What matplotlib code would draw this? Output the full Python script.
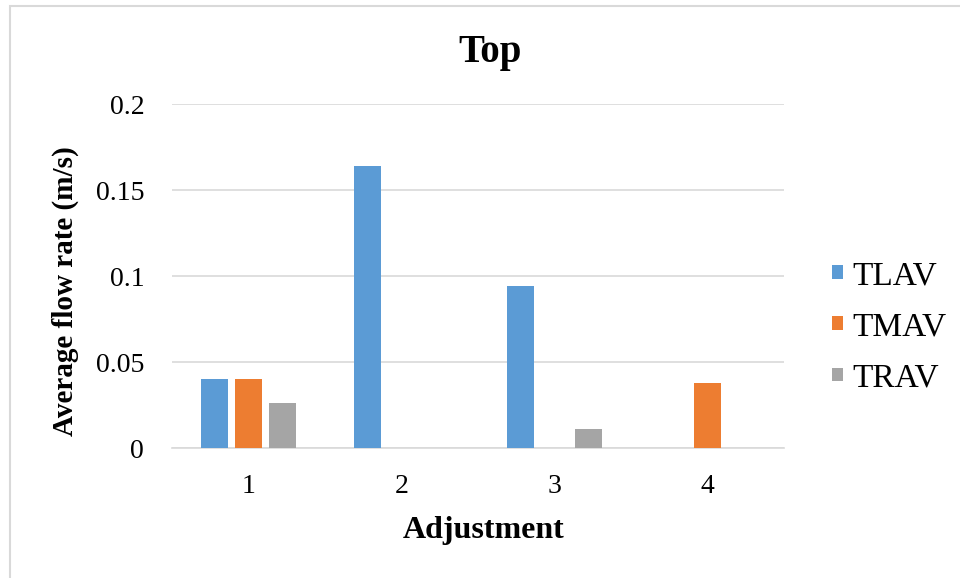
import matplotlib
matplotlib.use("Agg")
import matplotlib.pyplot as plt
from matplotlib.patches import Rectangle
import numpy as np

# Average flow rate per adjustment, top sensors
adjustments = ["1", "2", "3", "4"]
series_names = ["TLAV", "TMAV", "TRAV"]
tlav = [0.040, 0.164, 0.094, 0.0]
tmav = [0.040, 0.0, 0.0, 0.038]
trav = [0.026, 0.0, 0.0113, 0.0]
y_ticks = [0, 0.05, 0.1, 0.15, 0.2]
y_tick_labels = ["0", "0.05", "0.1", "0.15", "0.2"]

colors = ["#5B9BD5", "#ED7D31", "#A5A5A5"]
grid_color = "#D9D9D9"

plt.rcParams["font.family"] = ["Liberation Serif", "DejaVu Serif"]

fig = plt.figure(figsize=(9.6, 5.78), dpi=100)
W, H = 960, 578

# light outer border of the chart area
fig.patches.append(Rectangle((10 / W, -0.05), 1.1, 1 - 6 / H + 0.05,
                             transform=fig.transFigure, fill=False,
                             edgecolor=grid_color, linewidth=1.5))

ax = fig.add_axes([172 / W, (H - 448) / H, (784 - 172) / W, (448 - 104) / H])

x = np.arange(1, len(adjustments) + 1)
width = 0.176
step = 0.222
handles = []
for i, (vals, name) in enumerate(zip([tlav, tmav, trav], series_names)):
    b = ax.bar(x + (i - 1) * step, vals, width, color=colors[i], label=name, zorder=3)
    handles.append(b)

ax.set_xlim(0.5, 4.5)
ax.set_ylim(0, 0.2)
ax.set_yticks(y_ticks)
ax.set_yticklabels(y_tick_labels)
ax.set_xticks(x)
ax.set_xticklabels(adjustments)
ax.yaxis.grid(True, color=grid_color, linewidth=1.2, zorder=0)
for s in ["top", "right", "left"]:
    ax.spines[s].set_visible(False)
ax.spines["bottom"].set_color(grid_color)
ax.spines["bottom"].set_linewidth(1.2)
ax.tick_params(axis="both", length=0, labelsize=20)
ax.tick_params(axis="y", pad=20)
ax.tick_params(axis="x", pad=19)

# titles placed in figure pixels
fig.text(490 / W, 1 - 62 / H, "Top", fontsize=28, fontweight="bold",
         ha="center", va="baseline")
fig.text(484 / W, 1 - 538 / H, "Adjustment", fontsize=23, fontweight="bold",
         ha="center", va="baseline")
fig.text(65 / W, 1 - 291 / H, "Average flow rate (m/s)", fontsize=21,
         fontweight="bold", rotation=90, ha="center", va="center")

fig.legend(handles=handles, loc="center left", bbox_to_anchor=(832 / W, 1 - 327 / H),
           frameon=False, fontsize=24, handlelength=0.34, handleheight=0.25,
           handletextpad=0.27, labelspacing=0.62, borderpad=0, borderaxespad=0)

fig.savefig("out.png", dpi=100)
